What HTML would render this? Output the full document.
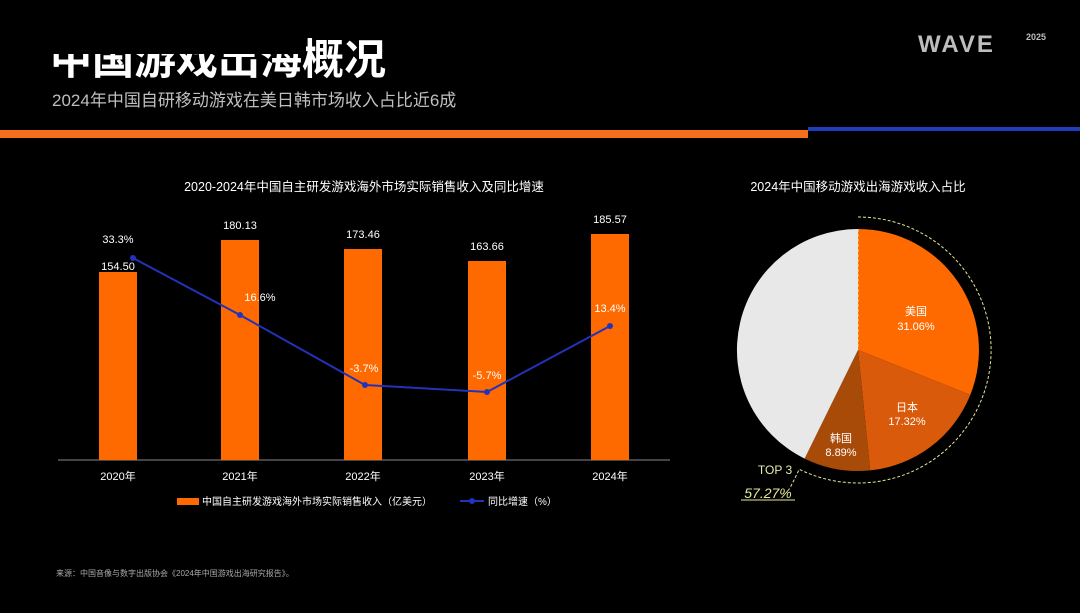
<!DOCTYPE html>
<html><head><meta charset="utf-8"><style>
body{margin:0;width:1080px;height:608px;background:#000;overflow:hidden;font-family:"Liberation Sans","Noto Sans CJK SC",sans-serif}
</style></head><body>
<svg width="1080" height="608" viewBox="0 0 1080 608" xmlns="http://www.w3.org/2000/svg" font-family="Liberation Sans, Noto Sans CJK SC, sans-serif">
<rect width="1080" height="608" fill="#000"/>
<text x="50" y="74" fill="#fff" font-size="42" font-weight="bold">中国游戏出海概况</text>
<rect x="46" y="30" width="260" height="24" fill="#000"/>
<text x="52" y="106" fill="#bfbfbf" font-size="17">2024年中国自研移动游戏在美日韩市场收入占比近6成</text>
<text x="918" y="52" fill="#bdbdbd" font-size="24" font-weight="bold" letter-spacing="2">WAVE</text>
<text x="1026" y="40" fill="#bdbdbd" font-size="9" font-weight="bold">2025</text>
<rect x="0" y="130" width="808" height="8" fill="#f26d1c"/>
<rect x="808" y="127" width="272" height="4" fill="#1f3dbd"/>
<text x="364" y="191" fill="#fff" font-size="12.5" text-anchor="middle">2020-2024年中国自主研发游戏海外市场实际销售收入及同比增速</text>
<text x="858" y="191" fill="#fff" font-size="12.5" text-anchor="middle">2024年中国移动游戏出海游戏收入占比</text>
<line x1="58" y1="460" x2="670" y2="460" stroke="#888" stroke-width="1"/>
<g fill="#ff6a00">
<rect x="99" y="272" width="38" height="188"/>
<rect x="221" y="240" width="38" height="220"/>
<rect x="344" y="249" width="38" height="211"/>
<rect x="468" y="261" width="38" height="199"/>
<rect x="591" y="234" width="38" height="226"/>
</g>
<g fill="#fff" font-size="11" text-anchor="middle">
<text x="118" y="270">154.50</text><text x="240" y="229">180.13</text><text x="363" y="238">173.46</text><text x="487" y="250">163.66</text><text x="610" y="223">185.57</text>
</g>
<polyline points="133,258 240,315 365,385 487,392 610,326" fill="none" stroke="#2233bb" stroke-width="2"/>
<g fill="#2233bb"><circle cx="133" cy="258" r="3"/><circle cx="240" cy="315" r="3"/><circle cx="365" cy="385" r="3"/><circle cx="487" cy="392" r="3"/><circle cx="610" cy="326" r="3"/></g>
<g fill="#fff" font-size="11" text-anchor="middle">
<text x="118" y="243">33.3%</text><text x="260" y="301">16.6%</text><text x="364" y="372">-3.7%</text><text x="487" y="379">-5.7%</text><text x="610" y="312">13.4%</text>
</g>
<g fill="#fff" font-size="11" text-anchor="middle">
<text x="118" y="480">2020年</text><text x="240" y="480">2021年</text><text x="363" y="480">2022年</text><text x="487" y="480">2023年</text><text x="610" y="480">2024年</text>
</g>
<rect x="177" y="498" width="22" height="7" fill="#ff6a00"/>
<text x="202" y="505" fill="#fff" font-size="10">中国自主研发游戏海外市场实际销售收入（亿美元）</text>
<line x1="460" y1="501" x2="484" y2="501" stroke="#2233bb" stroke-width="2"/><circle cx="472" cy="501" r="3" fill="#2233bb"/>
<text x="488" y="505" fill="#fff" font-size="10">同比增速（%）</text>
<path d="M858,350 L858,229 A121,121 0 0 1 970.3,394.9 Z" fill="#ff6a00"/>
<path d="M858,350 L970.3,394.9 A121,121 0 0 1 870.2,470.4 Z" fill="#d95a0a"/>
<path d="M858,350 L870.2,470.4 A121,121 0 0 1 804.6,458.6 Z" fill="#a84a08"/>
<path d="M858,350 L804.6,458.6 A121,121 0 0 1 858,229 Z" fill="#e8e8e8"/>
<path d="M858,217 A133,133 0 1 1 799.3,469.3 L790,488" fill="none" stroke="#e6e89a" stroke-width="1" stroke-dasharray="3,2"/>
<line x1="858" y1="229" x2="858" y2="350" stroke="#e6e89a" stroke-width="1" stroke-dasharray="3,2"/>
<g fill="#fff" font-size="11" text-anchor="middle">
<text x="916" y="315">美国</text><text x="916" y="330">31.06%</text>
<text x="907" y="411">日本</text><text x="907" y="425">17.32%</text>
<text x="841" y="442">韩国</text><text x="841" y="456">8.89%</text>
</g>
<text x="775" y="474" fill="#e8eab0" font-size="12" text-anchor="middle">TOP 3</text>
<text x="768" y="498" fill="#e6e89a" font-size="14" font-style="italic" text-anchor="middle">57.27%</text>
<line x1="741" y1="500" x2="795" y2="500" stroke="#e6e89a" stroke-width="1"/>
<text x="56" y="576" fill="#aaa" font-size="8">来源：中国音像与数字出版协会《2024年中国游戏出海研究报告》。</text>
</svg>
</body></html>
